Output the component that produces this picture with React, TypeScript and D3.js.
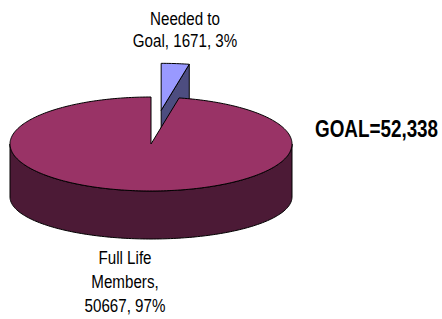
import React from 'react';
import * as d3 from 'd3';

const values = [1671, 50667];
const topColors = ['#9999ff', '#993366'];
const sideColors = ['#4d4d80', '#4c1a36'];
const labelLines = [['Needed to', 'Goal, 1671, 3%'], ['Full Life', 'Members,', '50667, 97%']];
const goalText = 'GOAL=52,338';

const W = 442;
const H = 319;
// no narrow font installed, so squeeze Liberation Sans horizontally
const NARROW = 0.82;

const App = () => {
    const cx = 151, cy = 144, rx = 141, ry = 47;
    const cyB = 197, ryB = 42;
    const explode = 0.72;

    const pie = d3.pie<number>().sort(null).startAngle(0).endAngle(2 * Math.PI);
    const arcs = pie(values);

    const pt = (a: number, y0: number, r: number, ox = 0, oy = 0): [number, number] =>
        [cx + ox + rx * Math.sin(a), y0 + oy - r * Math.cos(a)];

    const line = d3.line<[number, number]>();

    const sample = (a0: number, a1: number) => {
        const n = Math.max(2, Math.ceil(Math.abs(a1 - a0) / 0.02));
        return d3.range(n + 1).map(i => a0 + (a1 - a0) * i / n);
    };

    // small slice (exploded)
    const s = arcs[0];
    const mid = (s.startAngle + s.endAngle) / 2;
    const ox = explode * rx * Math.sin(mid);
    const oy = -explode * ry * Math.cos(mid);
    const sTop: [number, number][] = [[cx + ox, cy + oy], ...sample(s.startAngle, s.endAngle).map(a => pt(a, cy, ry, ox, oy))];
    const sFace: [number, number][] = [
        [cx + ox, cy + oy],
        pt(s.endAngle, cy, ry, ox, oy),
        pt(s.endAngle, cyB, ryB, ox, oy),
        [cx + ox, cyB + oy],
    ];

    // main slice
    const m = arcs[1];
    const mTop: [number, number][] = [[cx, cy], ...sample(m.startAngle, m.endAngle).map(a => pt(a, cy, ry))];
    const front0 = Math.PI / 2, front1 = Math.PI * 1.5;
    const mSide: [number, number][] = [
        ...sample(front0, front1).map(a => pt(a, cy, ry)),
        ...sample(front1, front0).map(a => pt(a, cyB, ryB)),
    ];

    const font = "'Liberation Sans', Arial, sans-serif";

    const lines = (ls: string[], x: number, y: number, gap: number) => (
        <g transform={`translate(${x},${y}) scale(${NARROW},1)`}>
            <text textAnchor="middle" fontFamily={font} fontSize={18.5} fill="#000">
                {ls.map((t, i) => (
                    <tspan key={t} x={0} dy={i === 0 ? 0 : gap}>{t}</tspan>
                ))}
            </text>
        </g>
    );

    return (
        <svg width={W} height={H} style={{ position: 'absolute', left: 0, top: 0, background: '#fff' }}>
            <path d={line(sFace) + 'Z'} fill={sideColors[0]} stroke="#000" strokeWidth={1} strokeLinejoin="round" />
            <path d={line(sTop) + 'Z'} fill={topColors[0]} stroke="#000" strokeWidth={1} strokeLinejoin="round" />
            <path d={line(mSide) + 'Z'} fill={sideColors[1]} stroke="#000" strokeWidth={1} strokeLinejoin="round" />
            <path d={line(mTop) + 'Z'} fill={topColors[1]} stroke="#000" strokeWidth={1} strokeLinejoin="round" />

            {lines(labelLines[0], 185, 25, 22)}
            {lines(labelLines[1], 125, 264, 24)}
            <g transform={`translate(315,137) scale(${NARROW},1)`}>
                <text fontFamily={font} fontSize={23} fontWeight="bold" fill="#000">{goalText}</text>
            </g>
        </svg>
    );
};

export default App;
